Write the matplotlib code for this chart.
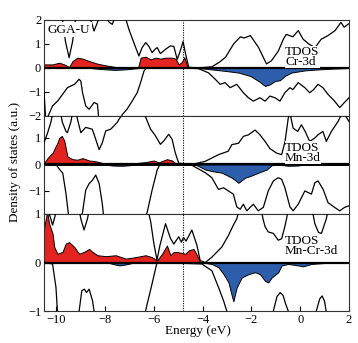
import numpy as np
import matplotlib
matplotlib.use("Agg")
import matplotlib.pyplot as plt

plt.rcParams['font.family'] = ['Liberation Serif', 'DejaVu Serif']

E_FERMI = -4.8
RED = '#e2231f'
BLUE = '#2c5eab'

# ---- Cr panel: (energy, dos) points ----
cr_tdos_up = [(-10.5, 2.4), (-9.75, 2.1), (-9.62, 1.1), (-9.47, 0.43), (-9.33, 1.1), (-9.2, 2.1),
              (-8.75, 2.3), (-8.55, 1.9), (-8.45, 1.54), (-8.31, 1.9), (-8.2, 2.2), (-7.97, 2.1),
              (-7.82, 1.9), (-7.7, 1.82), (-7.6, 2.1), (-7.3, 2.4), (-7.15, 2.05), (-7.02, 1.61),
              (-6.82, 1.06), (-6.61, 0.5), (-6.48, 0.85), (-6.33, 1.06), (-6.2, 0.9), (-6.07, 0.64),
              (-5.93, 0.8), (-5.86, 0.85), (-5.73, 0.6), (-5.52, 0.78), (-5.32, 0.92), (-5.18, 0.9),
              (-5.04, 0.36), (-4.92, 0.7), (-4.8, 1.1), (-4.7, 0.6), (-4.57, 0.03), (-4.2, 0.0),
              (-3.62, 0.05), (-3.3, 0.25), (-3.06, 0.45), (-2.73, 1.0), (-2.45, 1.3), (-2.3, 1.25),
              (-2.04, 1.35), (-1.71, 0.86), (-1.38, 0.17), (-1.18, 0.3), (-0.9, 0.7), (-0.69, 1.2),
              (-0.57, 1.4), (-0.3, 1.3), (-0.08, 1.56), (0.12, 1.2), (0.35, 1.0), (0.61, 0.85),
              (0.86, 1.2), (1.14, 1.35), (1.43, 1.56), (1.67, 1.9), (1.8, 1.7), (2.0, 1.85)]
cr_tdos_dn = [(-10.5, -1.0), (-10.42, -2.3), (-10.33, -2.0), (-10.15, -1.58), (-9.94, -1.375),
              (-9.74, -1.1), (-9.54, -0.82), (-9.4, -0.75), (-9.25, -0.68), (-9.06, -0.47),
              (-8.99, -0.55), (-8.92, -1.03), (-8.79, -1.58), (-8.65, -1.72), (-8.45, -1.44),
              (-8.31, -1.5), (-8.24, -2.3), (-7.4, -2.3), (-7.3, -1.95), (-7.1, -1.72), (-6.9, -1.4),
              (-6.68, -1.03), (-6.54, -0.6), (-6.4, -0.12), (-6.3, 0.0), (-4.6, 0.0), (-4.16, -0.03),
              (-3.76, -0.2), (-3.48, -0.47), (-3.28, -0.68), (-3.08, -0.61), (-2.87, -0.82),
              (-2.6, -0.68), (-2.33, -1.03), (-2.12, -1.24), (-1.92, -1.38), (-1.65, -1.24),
              (-1.44, -1.38), (-1.24, -1.17), (-1.03, -1.24), (-0.83, -1.38), (-0.63, -1.03),
              (-0.42, -0.82), (-0.3, -0.9), (-0.08, -0.61), (0.19, -0.82), (0.39, -1.03), (0.55, -0.9),
              (0.73, -0.68), (0.93, -0.82), (1.14, -1.1), (1.41, -1.38), (1.62, -1.65), (1.8, -1.45),
              (2.0, -1.24)]
cr_pdos_up = [(-10.5, 0.15), (-10.15, 0.15), (-9.88, 0.22), (-9.67, 0.15), (-9.47, 0.04), (-9.33, 0.29),
              (-9.13, 0.43), (-8.92, 0.39), (-8.65, 0.29), (-8.31, 0.18), (-7.97, 0.11), (-7.56, 0.04),
              (-7.15, 0.0), (-6.65, 0.0), (-6.54, 0.43), (-6.33, 0.47), (-6.13, 0.36), (-5.93, 0.43),
              (-5.73, 0.39), (-5.52, 0.43), (-5.25, 0.43), (-5.11, 0.39), (-4.98, 0.15), (-4.85, 0.25),
              (-4.75, 0.45), (-4.6, 0.0), (2.0, 0.0)]
cr_pdos_dn = [(-10.5, 0.0), (-8.6, 0.0), (-8.2, -0.04), (-7.6, -0.08), (-7.2, -0.06), (-6.6, 0.0),
              (-4.16, 0.0), (-3.62, -0.06), (-3.08, -0.12), (-2.53, -0.19), (-2.05, -0.33),
              (-1.71, -0.54), (-1.44, -0.75), (-1.24, -0.68), (-1.03, -0.54), (-0.83, -0.51),
              (-0.63, -0.33), (-0.36, -0.19), (0.19, -0.1), (0.73, -0.06), (1.28, -0.03), (2.0, 0.0)]

# ---- Mn panel ----
mn_tdos_up = [(-10.5, 0.82), (-10.35, 1.2), (-10.22, 1.59), (-10.1, 2.1), (-9.85, 2.1), (-9.75, 1.6),
              (-9.6, 1.25), (-9.54, 1.2), (-9.4, 1.6), (-9.3, 2.1), (-9.2, 2.0), (-9.1, 1.6),
              (-8.99, 1.2), (-8.79, 1.4), (-8.52, 1.33), (-8.38, 0.95), (-8.24, 0.56), (-8.11, 0.82),
              (-7.97, 1.27), (-7.77, 1.33), (-7.63, 1.46), (-7.5, 1.59), (-7.36, 1.8), (-7.2, 2.1),
              (-6.5, 2.1), (-6.34, 1.8), (-6.13, 1.33), (-5.93, 1.08), (-5.73, 0.76), (-5.59, 0.89),
              (-5.39, 1.14), (-5.25, 0.95), (-5.12, 0.44), (-4.98, 0.05), (-4.44, 0.0), (-3.89, 0.12),
              (-3.35, 0.37), (-2.95, 0.5), (-2.8, 0.75), (-2.53, 0.8), (-2.33, 1.06), (-2.12, 1.12),
              (-1.85, 1.3), (-1.65, 1.12), (-1.44, 0.87), (-1.24, 0.6), (-0.97, 0.43), (-0.76, 0.37),
              (-0.62, 0.87), (-0.49, 1.75), (-0.42, 1.95), (-0.29, 1.37), (-0.1, 1.25), (0.05, 1.5),
              (0.2, 1.25), (0.39, 0.87), (0.6, 1.0), (0.73, 1.12), (0.93, 1.25), (1.07, 0.87),
              (1.28, 1.25), (1.55, 1.62), (1.75, 2.0), (2.0, 1.62)]
mn_tdos_dn = [(-10.5, 0.0), (-10.01, 0.0), (-9.85, -0.2), (-9.73, -0.33), (-9.6, -1.1), (-9.47, -2.1),
              (-9.0, -2.1), (-8.92, -1.8), (-8.79, -0.97), (-8.65, -0.72), (-8.52, -0.6), (-8.38, -0.4),
              (-8.24, -0.72), (-8.11, -1.49), (-8.04, -2.1), (-6.4, -2.1), (-6.27, -1.8), (-6.07, -0.97),
              (-5.86, -0.2), (-5.75, 0.0), (-4.44, -0.03), (-3.89, -0.31), (-3.62, -0.5), (-3.35, -0.94),
              (-3.14, -0.88), (-2.94, -1.0), (-2.74, -1.12), (-2.6, -1.6), (-2.46, -1.69), (-2.33, -1.5),
              (-2.19, -1.75), (-1.92, -1.5), (-1.72, -1.75), (-1.51, -1.62), (-1.31, -1.0), (-1.1, -0.62),
              (-0.9, -0.5), (-0.76, -0.56), (-0.63, -0.87), (-0.42, -1.6), (-0.29, -1.75), (-0.08, -1.5),
              (0.19, -1.0), (0.46, -1.12), (0.6, -0.69), (0.73, -0.62), (0.94, -0.94), (1.14, -1.44),
              (1.41, -1.62), (1.62, -1.75), (1.82, -1.62), (2.0, -1.56)]
mn_pdos_up = [(-10.5, 0.05), (-10.35, 0.25), (-10.15, 0.44), (-9.95, 0.82), (-9.88, 1.0), (-9.77, 1.08),
              (-9.67, 0.9), (-9.54, 0.3), (-9.33, 0.2), (-9.13, 0.18), (-8.92, 0.24), (-8.65, 0.15),
              (-8.38, 0.12), (-7.97, 0.03), (-7.56, 0.0), (-7.15, 0.0), (-6.75, 0.05), (-6.34, 0.09),
              (-6.0, 0.15), (-5.8, 0.08), (-5.46, 0.2), (-5.25, 0.15), (-5.05, 0.0), (2.0, 0.0)]
mn_pdos_dn = [(-10.5, 0.0), (-8.0, 0.0), (-7.7, -0.04), (-7.3, -0.05), (-6.9, -0.02), (-6.7, 0.0),
              (-4.3, 0.0), (-3.89, -0.19), (-3.62, -0.25), (-3.21, -0.31), (-2.8, -0.5), (-2.53, -0.69),
              (-2.26, -0.5), (-2.06, -0.44), (-1.71, -0.31), (-1.37, -0.19), (-1.17, -0.03), (-0.9, 0.0),
              (-0.5, -0.05), (-0.1, -0.04), (0.2, 0.0), (2.0, 0.0)]

# ---- Mn-Cr panel ----
mncr_tdos_up = [(-10.5, 1.3), (-10.35, 1.1), (-10.22, 0.9), (-10.15, 0.77), (-10.05, 0.95), (-9.95, 1.2),
                (-9.1, 1.2), (-8.99, 0.9), (-8.86, 0.67), (-8.72, 0.9), (-8.6, 1.2), (-6.3, 1.2),
                (-6.13, 0.85), (-6.0, 0.4), (-5.87, 0.05), (-5.75, 0.35), (-5.52, 0.8), (-5.32, 0.5),
                (-5.18, 0.38), (-4.98, 0.53), (-4.87, 0.42), (-4.78, 0.52), (-4.68, 0.44), (-4.44, 0.67),
                (-4.23, 0.35), (-4.1, 0.04), (-3.89, 0.0), (-3.62, 0.11), (-3.21, 0.32), (-2.94, 0.56),
                (-2.74, 0.77), (-2.6, 0.9), (-2.45, 1.2), (-1.65, 1.2), (-1.51, 0.87), (-1.44, 0.74),
                (-1.31, 0.63), (-1.1, 0.6), (-0.9, 0.46), (-0.76, 0.49), (-0.63, 0.74), (-0.56, 0.9),
                (-0.45, 1.2), (0.45, 1.2), (0.6, 0.8), (0.75, 0.62), (0.87, 0.6), (0.97, 0.75),
                (1.07, 0.9), (1.2, 1.2), (2.0, 1.2)]
mncr_tdos_dn = [(-10.5, 0.0), (-10.15, -0.03), (-10.01, -0.51), (-9.95, -1.0), (-9.9, -1.2), (-9.1, -1.2),
                (-9.06, -1.0), (-8.95, -0.58), (-8.84, -0.55), (-8.76, -0.62), (-8.65, -0.55),
                (-8.51, -0.79), (-8.45, -1.0), (-8.4, -1.2), (-6.45, -1.2), (-6.34, -1.0), (-6.1, -0.5),
                (-5.87, 0.0), (-4.03, -0.03), (-3.62, -0.17), (-3.35, -0.51), (-3.14, -0.79),
                (-3.01, -1.0), (-2.9, -1.2), (-1.2, -1.2), (-1.1, -1.0), (-0.95, -0.7), (-0.82, -0.62),
                (-0.7, -0.68), (-0.6, -0.85), (-0.49, -1.0), (-0.4, -1.2), (0.6, -1.2), (0.66, -1.0),
                (0.8, -0.75), (0.9, -0.69), (1.0, -0.8), (1.06, -1.0), (1.12, -1.2), (2.0, -1.2)]
mncr_pdos_up = [(-10.5, 0.7), (-10.37, 1.05), (-10.29, 0.8), (-10.15, 0.6), (-10.08, 0.32), (-9.95, 0.18),
                (-9.74, 0.22), (-9.61, 0.39), (-9.47, 0.42), (-9.26, 0.32), (-9.06, 0.18), (-8.86, 0.22),
                (-8.65, 0.28), (-8.52, 0.22), (-8.31, 0.15), (-7.97, 0.13), (-7.56, 0.15), (-7.15, 0.08),
                (-6.75, 0.11), (-6.34, 0.15), (-6.07, 0.11), (-5.87, 0.04), (-5.66, 0.18), (-5.46, 0.35),
                (-5.32, 0.15), (-5.18, 0.22), (-4.98, 0.21), (-4.71, 0.18), (-4.57, 0.25), (-4.37, 0.28),
                (-4.23, 0.15), (-4.1, 0.0), (2.0, 0.0)]
mncr_pdos_dn = [(-10.5, 0.0), (-7.9, 0.0), (-7.6, -0.04), (-7.4, -0.06), (-7.15, -0.04), (-6.8, 0.0),
                (-4.03, 0.0), (-3.62, -0.03), (-3.35, -0.1), (-3.14, -0.24), (-2.94, -0.41), (-2.8, -0.69),
                (-2.74, -0.8), (-2.6, -0.51), (-2.4, -0.31), (-2.12, -0.24), (-1.85, -0.2), (-1.65, -0.24),
                (-1.44, -0.38), (-1.31, -0.41), (-1.17, -0.31), (-0.9, -0.2), (-0.76, -0.06),
                (-0.49, -0.03), (-0.08, -0.06), (0.12, -0.08), (0.46, -0.03), (1.0, -0.01), (2.0, 0.0)]

panels = [
    (cr_tdos_up, cr_tdos_dn, cr_pdos_up, cr_pdos_dn, 'TDOS\nCr-3d', (-2, 2), [2, 1, 0, -1, -2]),
    (mn_tdos_up, mn_tdos_dn, mn_pdos_up, mn_pdos_dn, 'TDOS\nMn-3d', (-1.87, 1.83), [1, 0, -1]),
    (mncr_tdos_up, mncr_tdos_dn, mncr_pdos_up, mncr_pdos_dn, 'TDOS\nMn-Cr-3d', (-1, 1), [1, 0, -1]),
]
label_y = [0.46, 0.44, 0.345]

W, H = 358, 343
fig = plt.figure(figsize=(W / 100, H / 100), dpi=100)
boxes = [(20, 116), (116, 214), (214, 311)]  # pixel top/bottom of each panel
left, right = 44, 349

axes = []
for i, (tu, td, pu, pd, name, ylim, yt) in enumerate(panels):
    top, bot = boxes[i]
    ax = fig.add_axes([left / W, 1 - bot / H, (right - left) / W, (bot - top) / H])
    axes.append(ax)
    tu, td, pu, pd = [np.array(a) for a in (tu, td, pu, pd)]

    ax.fill_between(pu[:, 0], 0, pu[:, 1], facecolor=RED, edgecolor='k', lw=0.7, zorder=2)
    ax.fill_between(pd[:, 0], 0, pd[:, 1], facecolor=BLUE, edgecolor='k', lw=0.7, zorder=2)
    ax.plot(tu[:, 0], tu[:, 1], color='k', lw=0.9, zorder=3)
    ax.plot(td[:, 0], td[:, 1], color='k', lw=0.9, zorder=3)
    ax.axhline(0, color='k', lw=1.6, zorder=4)
    ax.axvline(E_FERMI, color='k', lw=0.8, ls=(0, (1, 1.2)), zorder=1)

    ax.set_xlim(-10.5, 2)
    ax.set_ylim(*ylim)
    ax.set_yticks(yt)
    ax.set_xticks(np.arange(-10, 3, 2))
    ax.tick_params(direction='in', length=3.5, width=0.8, labelsize=9, pad=2)
    if i < 2:
        ax.tick_params(axis='x', bottom=False, labelbottom=False)
    for s in ax.spines.values():
        s.set_linewidth(0.8)
        s.set_color('#333333')

    ax.text(-0.62, label_y[i], name, fontsize=9.5, va='center', ha='left', zorder=5,
            linespacing=0.82, bbox=dict(facecolor='white', edgecolor='none', pad=0.2))

axes[0].text(-10.35, 1.6, 'GGA-U', fontsize=9.5, va='center', ha='left', zorder=5,
             bbox=dict(facecolor='white', edgecolor='none', pad=1.0))

fig.text(15 / W, 1 - 162 / H, 'Density of states (a.u.)', rotation=90, fontsize=9.5,
         ha='center', va='center')
fig.text(198 / W, 1 - 331 / H, 'Energy (eV)', fontsize=9.5, ha='center', va='center')

fig.savefig('out.png', dpi=100)
